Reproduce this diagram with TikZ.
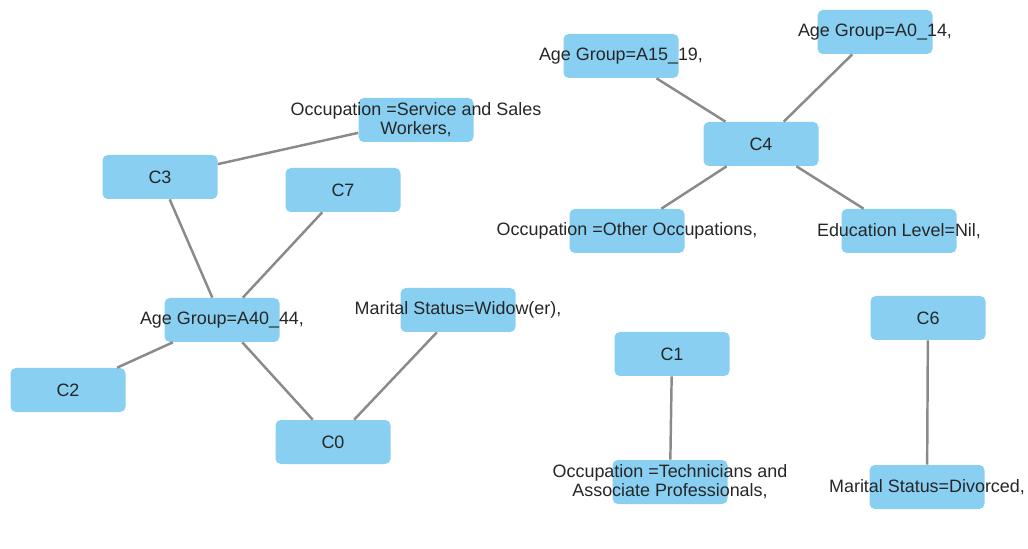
\documentclass[tikz,border=0pt]{standalone}
\usepackage{fontspec}
\setmainfont{Liberation Sans}
\usepackage{xcolor}
\usepackage{tikz}
\definecolor{nodeblue}{HTML}{88CFF2}
\definecolor{edgegray}{HTML}{8A8A8A}
\definecolor{textdark}{HTML}{262626}
\tikzset{
  concept/.style={fill=nodeblue, rounded corners=3pt, align=center, inner sep=0pt, minimum width=23mm, minimum height=8.8mm, text=textdark, font=\fontsize{10.2}{10.9}\selectfont},
  link/.style={draw=edgegray, line width=1.4pt}
}
% label text may run past the box, as in the original
\newcommand{\ovl}[1]{\makebox[0pt]{\raisebox{-1pt}{#1}}}

\begin{document}
\begin{tikzpicture}
  \useasboundingbox (0,0) rectangle (20.56,-10.98);

  \node[concept] (svc) at (8.32,-2.40) {\ovl{Occupation =Service and Sales}\\\ovl{Workers,}};
  \node[concept] (c3) at (3.20,-3.54) {C3};
  \node[concept] (c7) at (6.86,-3.80) {C7};
  \node[concept] (a4044) at (4.44,-6.40) {\ovl{Age Group=A40\_44,}};
  \node[concept] (widow) at (9.16,-6.20) {\ovl{Marital Status=Widow(er),}};
  \node[concept] (c2) at (1.36,-7.80) {C2};
  \node[concept] (c0) at (6.66,-8.84) {C0};

  \node[concept] (c4) at (15.22,-2.88) {C4};
  \node[concept] (a1519) at (12.42,-1.12) {\ovl{Age Group=A15\_19,}};
  \node[concept] (a014) at (17.50,-0.64) {\ovl{Age Group=A0\_14,}};
  \node[concept] (other) at (12.54,-4.62) {\ovl{Occupation =Other Occupations,}};
  \node[concept] (edu) at (17.98,-4.62) {\ovl{Education Level=Nil,}};

  \node[concept] (c1) at (13.44,-7.08) {C1};
  \node[concept] (tech) at (13.40,-9.64) {\ovl{Occupation =Technicians and}\\\ovl{Associate Professionals,}};
  \node[concept] (c6) at (18.56,-6.36) {C6};
  \node[concept] (divorced) at (18.54,-9.74) {\ovl{Marital Status=Divorced,}};

  \draw[link] (c3) -- (svc);
  \draw[link] (c3) -- (a4044);
  \draw[link] (c7) -- (a4044);
  \draw[link] (a4044) -- (c2);
  \draw[link] (a4044) -- (c0);
  \draw[link] (c0) -- (widow);

  \foreach \x in {a1519,a014,other,edu} {
    \draw[link] (c4) -- (\x);
  }

  \draw[link] (c1) -- (tech);
  \draw[link] (c6) -- (divorced);
\end{tikzpicture}
\end{document}
